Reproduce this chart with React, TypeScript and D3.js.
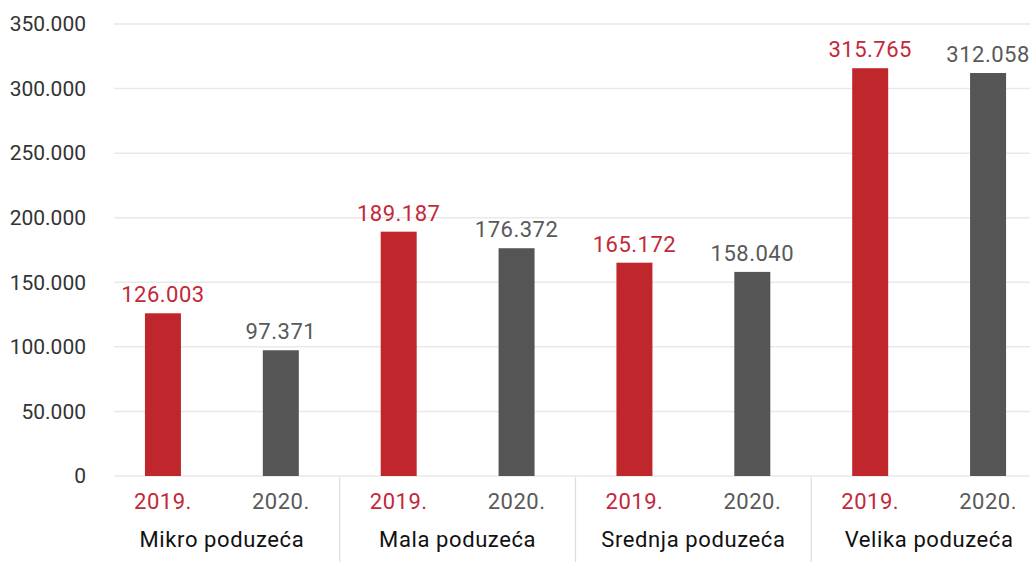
import React from 'react';
import * as d3 from 'd3';

const groups = ['Mikro poduzeća', 'Mala poduzeća', 'Srednja poduzeća', 'Velika poduzeća'];
const years = ['2019.', '2020.'];
const values2019 = [126003, 189187, 165172, 315765];
const values2020 = [97371, 176372, 158040, 312058];
const yTicks = [0, 50000, 100000, 150000, 200000, 250000, 300000, 350000];

const W = 1030;
const H = 562;
const RED = '#c0272d';
const GRAY = '#555555';
const FONT = 'Roboto, "Noto Sans", sans-serif';

const fmt = (v: number) => d3.format(',')(v).replace(/,/g, '.');

const App = () => {
  const x0 = d3.scaleBand().domain(groups).range([104, 1047]).padding(0);
  const x1 = d3.scaleBand().domain(years).range([0, x0.bandwidth()]).padding(0);
  const y = d3.scaleLinear().domain([0, 350000]).range([476, 24]);
  const barW = 36;

  const series = [values2019, values2020];
  const colors = [RED, GRAY];
  const textColors = ['#c3283a', '#595959'];

  return (
    <svg width={W} height={H} style={{ position: 'absolute', left: 0, top: 0 }} fontFamily={FONT}>
      {yTicks.map(t => (
        <g key={t}>
          <line x1={114} x2={W} y1={y(t)} y2={y(t)} stroke="#e9e9e9" strokeWidth={1.5} />
          <text x={86} y={y(t)} dy="0.35em" textAnchor="end" fontSize={21} fill="#333">
            {fmt(t)}
          </text>
        </g>
      ))}
      {groups.slice(1).map(g => (
        <line key={g} x1={x0(g)!} x2={x0(g)!} y1={477} y2={H} stroke="#dddddd" strokeWidth={1.2} />
      ))}
      {groups.map((g, gi) => (
        <g key={g}>
          {years.map((yr, si) => {
            const v = series[si][gi];
            const cx = x0(g)! + x1(yr)! + x1.bandwidth() / 2;
            return (
              <g key={yr}>
                <rect x={cx - barW / 2} y={y(v)} width={barW} height={y(0) - y(v)} fill={colors[si]} />
                <text x={cx} y={y(v) - 11} textAnchor="middle" fontSize={22} letterSpacing={0.5} fill={textColors[si]}>
                  {fmt(v)}
                </text>
                <text x={cx} y={509} textAnchor="middle" fontSize={22} letterSpacing={0.5} fill={textColors[si]}>
                  {yr}
                </text>
              </g>
            );
          })}
          <text x={x0(g)! + x0.bandwidth() / 2} y={547} textAnchor="middle" fontSize={22} letterSpacing={0.6} fill="#111">
            {g}
          </text>
        </g>
      ))}
    </svg>
  );
};

export default App;
